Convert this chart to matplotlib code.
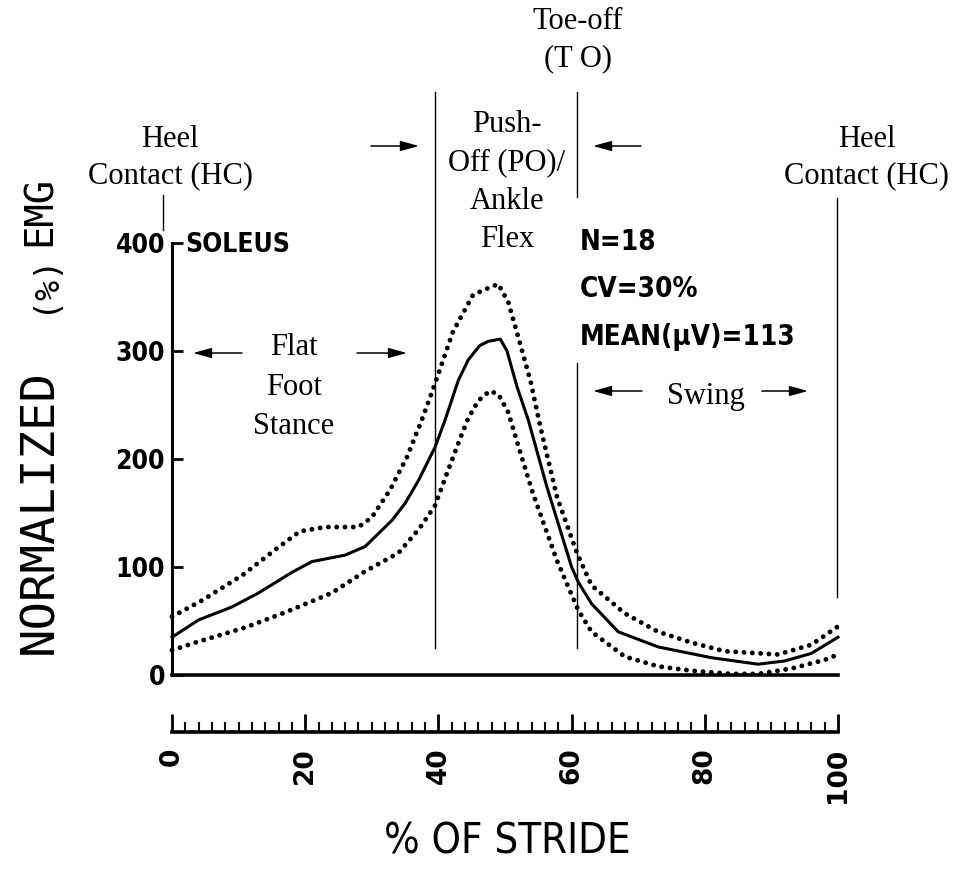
import matplotlib
matplotlib.use('Agg')
import matplotlib.pyplot as plt
from matplotlib import font_manager
from matplotlib.font_manager import FontProperties

# soleus EMG over the gait cycle (% of stride)
mean_x = [0, 4, 9, 13, 18, 21, 26, 29, 33, 35, 37, 39.5, 41, 43, 44.5, 46.2, 47.5, 49.3,
          50.3, 51.8, 53.5, 56.3, 60, 61, 63, 67, 73, 81, 88, 92, 96, 100]
mean_y = [35, 51, 63, 76, 95, 105, 111, 119, 143, 159, 180, 211, 236, 273, 292, 305, 309, 311,
          300, 267, 236, 174, 100, 86, 66, 40, 26, 16, 10, 13, 20, 35]

upper_x = [0, 4.5, 10.7, 15.7, 19.2, 23, 28, 30, 32.7, 35.3, 37.5, 39.5, 42.2, 45.2, 47, 49,
           50.5, 51.8, 53.8, 55.3, 57.8, 60.8, 63, 68, 73, 78, 83, 91, 96, 100]
upper_y = [54, 69, 93, 117, 133, 137, 137, 146, 171, 202, 236, 270, 318, 352, 357, 362,
           345, 317, 273, 230, 165, 113, 83, 57, 40, 30, 22, 19, 28, 45]

lower_x = [0, 4, 11, 17, 24, 29, 34, 37.2, 39.5, 41.3, 43.2, 44.5, 46, 47.7, 49, 50.5, 52,
           54.2, 56, 57.8, 61, 63, 68, 73, 78, 84, 88, 93, 98, 100]
lower_y = [23, 31, 44, 58, 76, 96, 113, 136, 157, 187, 218, 238, 254, 263, 260, 243, 212,
           168, 137, 106, 60, 40, 17, 8, 4, 1, 1, 6, 14, 19]

y_ticks = [0, 100, 200, 300, 400]
x_ticks = [0, 20, 40, 60, 80, 100]
stats = ['N=18', 'CV=30%', 'MEAN(\u03bcV)=113']

# gait events (% stride) and the vertical extent of each marker line
events = [(-1.4, 412, 444), (39.5, 25, 540), (60.8, 25, 289), (60.8, 443, 540), (99.8, 72, 442)]

W, H = 956, 874

# look for a narrow sans face for the plotter-style lettering
ttf = font_manager.fontManager.ttflist
narrow = [f for f in ttf
          if (f.stretch in ('condensed', 'semi-condensed', 'extra-condensed', 'ultra-condensed')
              or 'Narrow' in f.name or 'Condensed' in f.name)
          and 'Serif' not in f.name and 'Mono' not in f.name
          and f.style == 'normal']
def narrow_font(size, bold=False):
    want = [f for f in narrow if (f.weight in ('bold', 700)) == bold] or narrow
    if want:
        return FontProperties(fname=want[0].fname, size=size)
    return FontProperties(family='Liberation Sans', size=size * 0.85,
                          weight='bold' if bold else 'normal')

names = {f.name for f in ttf}
SERIF = 'Liberation Serif' if 'Liberation Serif' in names else 'DejaVu Serif'
MONO = 'DejaVu Sans Mono'

def P(x, y):
    # pixel position in the reference -> figure fraction
    return (x / W, 1 - y / H)

fig = plt.figure(figsize=(W / 100, H / 100), dpi=100)
ax = fig.add_axes([172 / W, (H - 675) / H, 666 / W, 432 / H])
ax.set_xlim(0, 100)
ax.set_ylim(0, 400)
ax.patch.set_alpha(0)

ax.plot(mean_x, mean_y, color='black', lw=2.2, solid_joinstyle='round', clip_on=False)
for xs, ys in [(upper_x, upper_y), (lower_x, lower_y)]:
    ax.plot(xs, ys, color='black', lw=3.5, linestyle=(0, (0.01, 1.7)),
            dash_capstyle='round', clip_on=False)

for x, y0, y1 in events:
    ax.plot([x, x], [y0, y1], color='black', lw=1.0, clip_on=False)

for s in ['top', 'right']:
    ax.spines[s].set_visible(False)
ax.spines['left'].set_linewidth(2.2)
ax.spines['bottom'].set_linewidth(2.6)
ax.set_xticks([])
ax.set_yticks(y_ticks)
ax.set_yticklabels([str(v) for v in y_ticks], fontproperties=narrow_font(19, bold=True))
ax.tick_params(axis='y', direction='in', length=8, width=2, pad=5)

# separate ruler for % of stride
ax2 = fig.add_axes([172 / W, (H - 732) / H, 666 / W, 0.001])
ax2.patch.set_alpha(0)
for s in ['top', 'right', 'left']:
    ax2.spines[s].set_visible(False)
ax2.spines['bottom'].set_linewidth(2.6)
ax2.set_xlim(0, 100)
ax2.set_yticks([])
ax2.set_xticks(x_ticks)
ax2.set_xticks(range(0, 101, 2), minor=True)
ax2.set_xticklabels([str(v) for v in x_ticks], rotation=90, fontfamily='DejaVu Sans',
                    fontweight='bold', fontsize=19, va='top')
ax2.tick_params(axis='x', which='major', direction='in', length=13, width=2, pad=11)
ax2.tick_params(axis='x', which='minor', direction='in', length=7, width=1.5)

fig.text(*P(507, 854), '% OF STRIDE', fontproperties=narrow_font(30), ha='center',
         va='baseline')
fig.text(*P(40, 512), 'NORMALIZED', fontfamily=MONO, fontsize=34, rotation=90,
         ha='center', va='center')
fig.text(*P(40, 211), 'EMG', fontfamily=MONO, fontsize=28, rotation=90,
         ha='center', va='center')
fig.text(*P(44, 283), '(%)', fontfamily=MONO, fontsize=24, rotation=90,
         ha='center', va='center')

fig.text(*P(185, 252), 'SOLEUS', fontproperties=narrow_font(19, bold=True), va='baseline')
for label, base in zip(stats, [250, 297, 345]):
    fig.text(*P(580, base), label, fontproperties=narrow_font(20, bold=True), va='baseline')

serif = dict(fontfamily=SERIF, fontsize=22, ha='center', va='baseline')
for txt, x, y in [('Toe-off', 578, 29), ('(T O)', 578, 66),
                  ('Heel', 170, 147), ('Contact (HC)', 170, 183),
                  ('Heel', 867, 147), ('Contact (HC)', 867, 183),
                  ('Push-', 507, 132), ('Off (PO)/', 507, 170),
                  ('Ankle', 507, 209), ('Flex', 507, 247),
                  ('Flat', 294, 355), ('Foot', 294, 395), ('Stance', 294, 434),
                  ('Swing', 706, 404)]:
    fig.text(*P(x, y), txt, **serif)

arrow = dict(arrowstyle='-|>,head_length=0.8,head_width=0.22', color='black', lw=1.1,
             mutation_scale=14, shrinkA=0, shrinkB=0)
for x0, x1, y in [(371, 419, 146), (641, 593, 146), (242, 193, 353), (357, 407, 353),
                  (642, 593, 391), (762, 808, 391)]:
    fig.add_artist(matplotlib.patches.FancyArrowPatch(P(x0, y), P(x1, y),
                   transform=fig.transFigure, **arrow))

plt.savefig('out.png', dpi=100)
